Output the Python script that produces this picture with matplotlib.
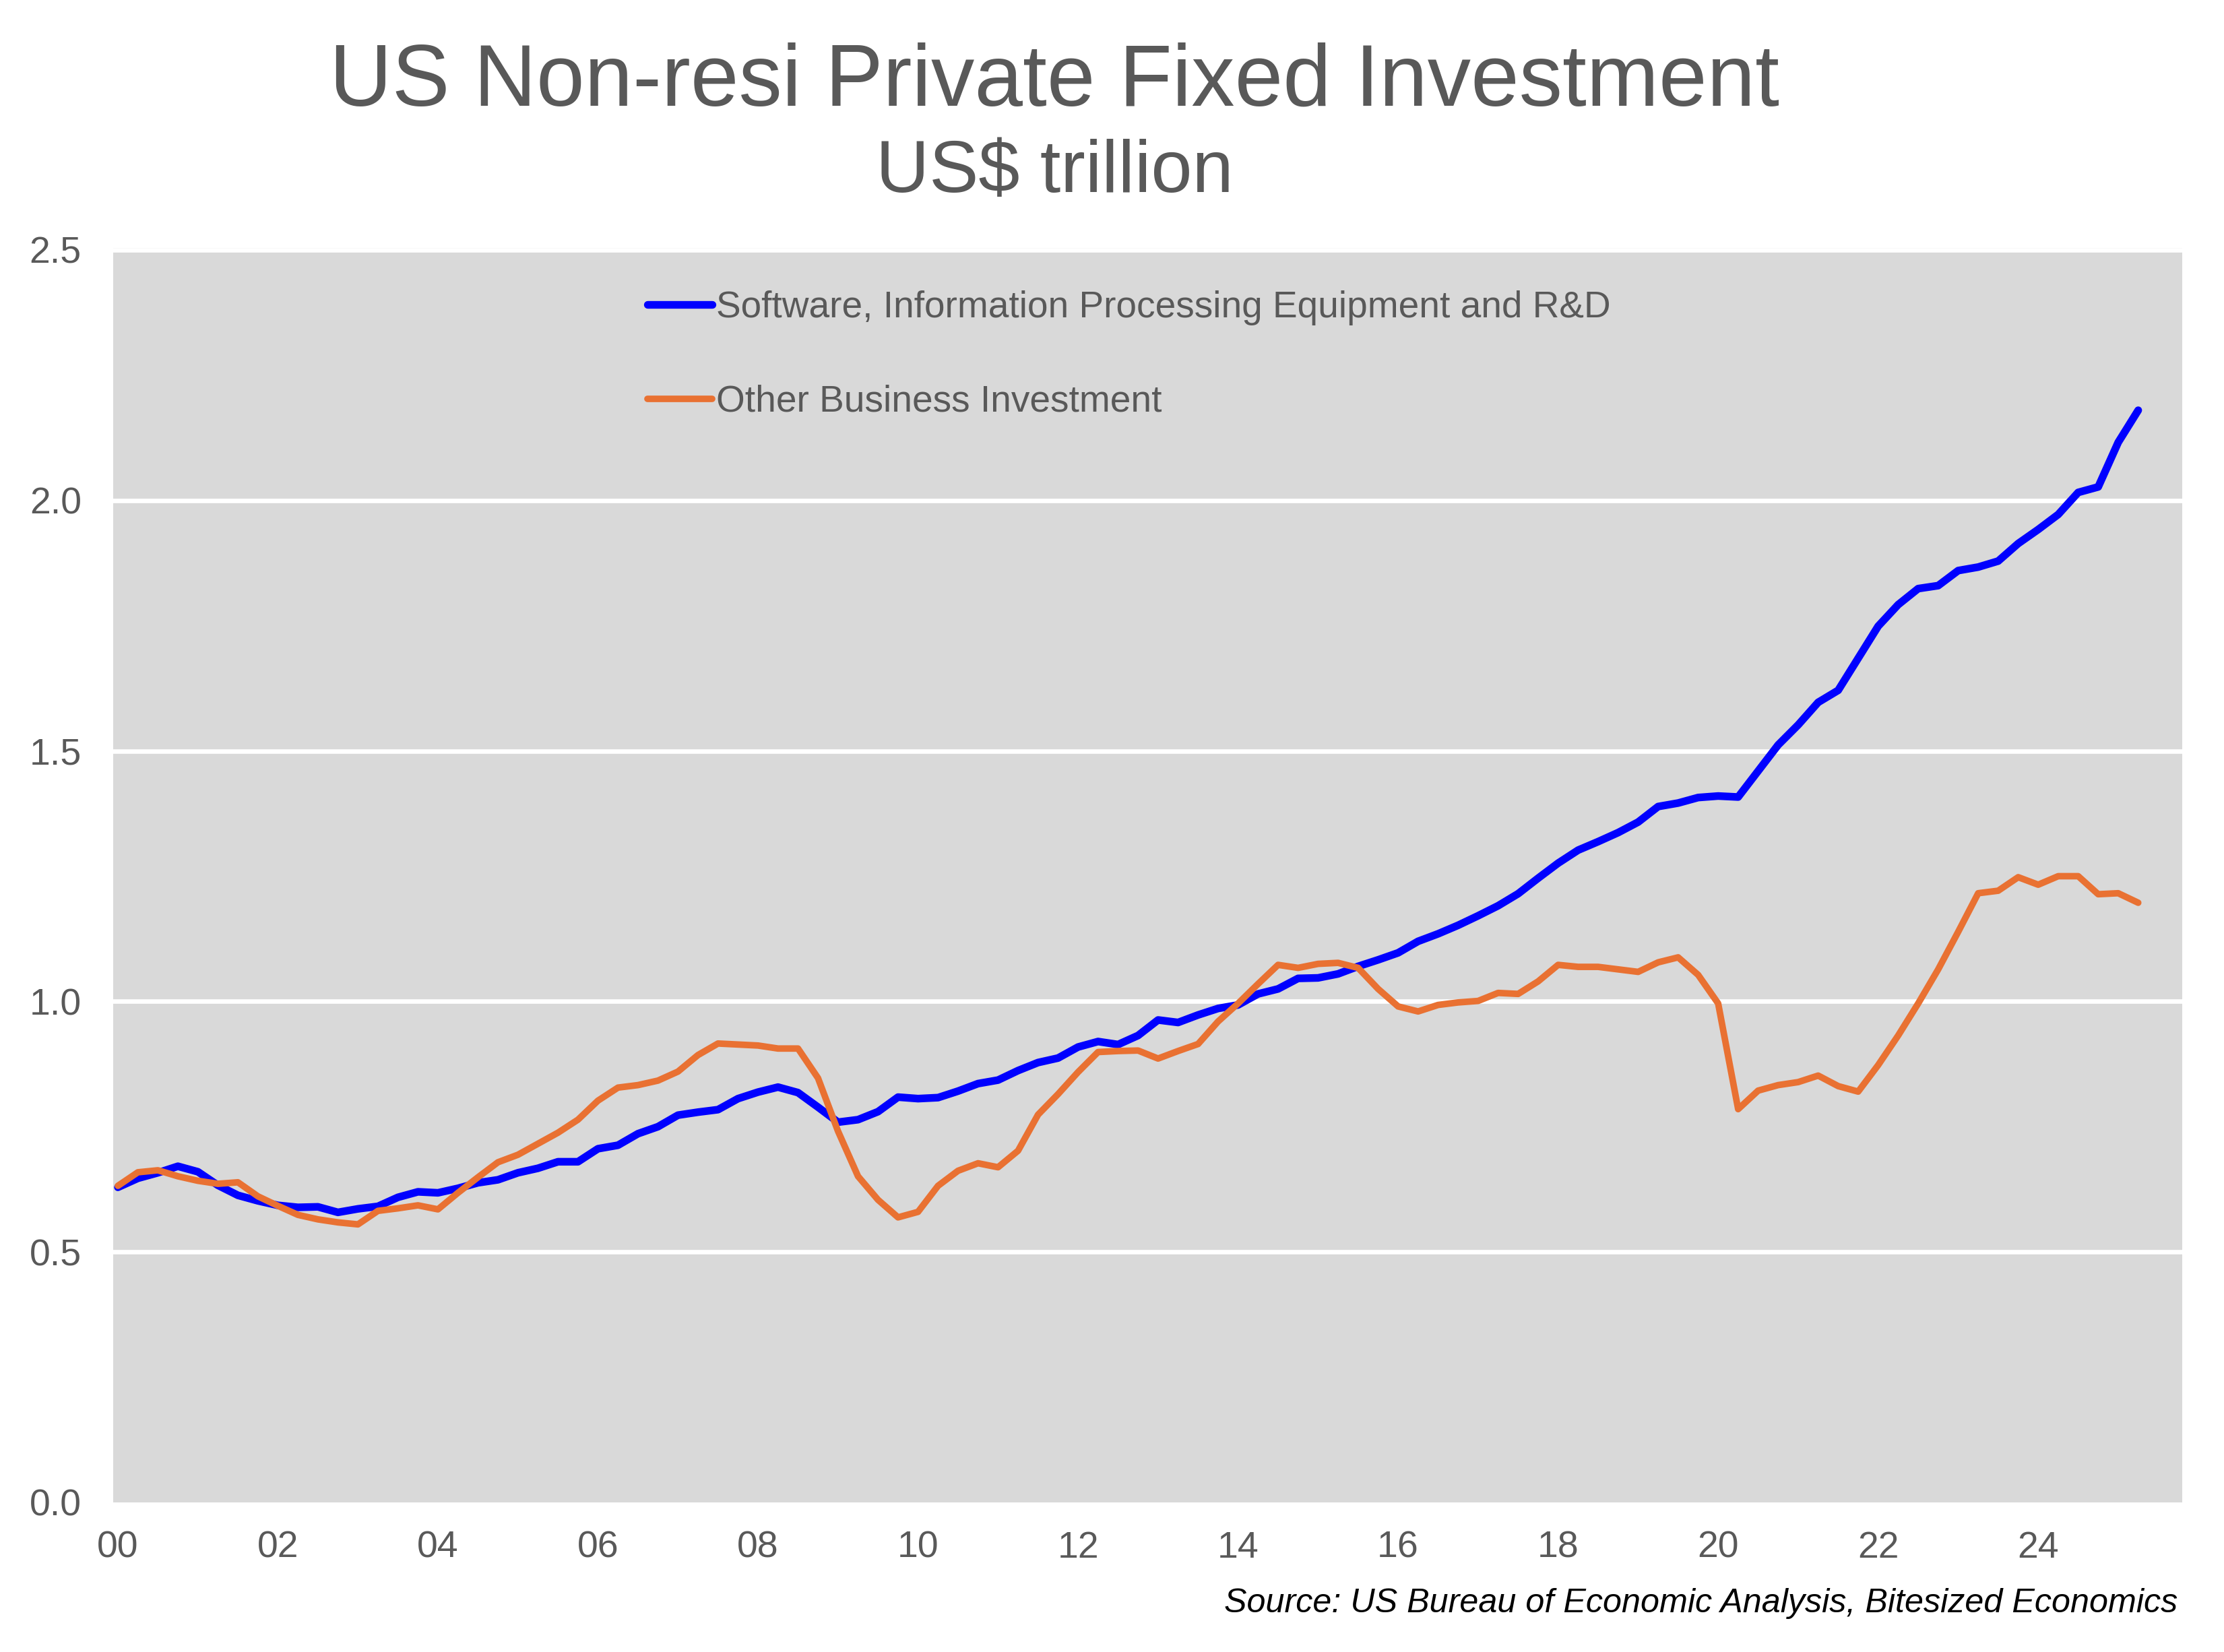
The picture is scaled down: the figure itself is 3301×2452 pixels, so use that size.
import matplotlib
matplotlib.use("Agg")
import matplotlib.pyplot as plt

# ---------------- data (quarterly, 2000Q1 .. 2025Q2) ----------------
software_ipe_rd = [
    0.629, 0.647, 0.658, 0.671, 0.660, 0.633, 0.613, 0.602, 0.593, 0.589,
    0.590, 0.579, 0.586, 0.591, 0.609, 0.620, 0.618, 0.627, 0.638, 0.644,
    0.658, 0.667, 0.680, 0.680, 0.706, 0.713, 0.736, 0.750, 0.773, 0.779,
    0.784, 0.806, 0.819, 0.829, 0.818, 0.789, 0.759, 0.764, 0.780, 0.809,
    0.806, 0.808, 0.821, 0.836, 0.843, 0.862, 0.878, 0.887, 0.909, 0.920,
    0.914, 0.932, 0.963, 0.958, 0.973, 0.986, 0.993, 1.015, 1.025, 1.046,
    1.047, 1.055, 1.070, 1.083, 1.097, 1.120, 1.135, 1.152, 1.171, 1.191,
    1.215, 1.246, 1.276, 1.302, 1.319, 1.337, 1.358, 1.389, 1.396, 1.407,
    1.410, 1.408, 1.460, 1.512, 1.552, 1.597, 1.621, 1.685, 1.749, 1.792,
    1.824, 1.830, 1.860, 1.867, 1.879, 1.914, 1.942, 1.972, 2.016, 2.027,
    2.116, 2.180,
]
other_business = [
    0.632, 0.659, 0.663, 0.651, 0.642, 0.636, 0.639, 0.611, 0.592, 0.574,
    0.565, 0.559, 0.555, 0.582, 0.587, 0.593, 0.585, 0.618, 0.649, 0.679,
    0.694, 0.716, 0.738, 0.764, 0.802, 0.828, 0.833, 0.842, 0.860, 0.893,
    0.916, 0.914, 0.912, 0.906, 0.906, 0.847, 0.741, 0.651, 0.604, 0.569,
    0.580, 0.632, 0.662, 0.677, 0.669, 0.702, 0.774, 0.815, 0.859, 0.899,
    0.901, 0.902, 0.886, 0.901, 0.915, 0.960, 0.996, 1.035, 1.073, 1.067,
    1.075, 1.077, 1.067, 1.025, 0.990, 0.980, 0.993, 0.998, 1.001, 1.017,
    1.015, 1.040, 1.073, 1.069, 1.069, 1.064, 1.059, 1.078, 1.088, 1.053,
    0.996, 0.785, 0.822, 0.833, 0.839, 0.852, 0.831, 0.820, 0.873, 0.932,
    0.996, 1.064, 1.139, 1.216, 1.221, 1.248, 1.233, 1.250, 1.250, 1.214,
    1.216, 1.197,
]
year_labels = ["00", "02", "04", "06", "08", "10", "12",
               "14", "16", "18", "20", "22", "24"]
y_ticks = [0.0, 0.5, 1.0, 1.5, 2.0, 2.5]
series_names = ["Software, Information Processing Equipment and R&D",
                "Other Business Investment"]

# ---------------- style ----------------
plt.rcParams["font.family"] = ["Liberation Sans", "DejaVu Sans"]
GREY_TXT = "#595959"
BLUE = "#0000FF"
ORANGE = "#E97132"

W, H = 3301, 2452
DPI = 200
fig = plt.figure(figsize=(W / DPI, H / DPI), dpi=DPI, facecolor="white")

left, right, top, bottom = 168, 3239, 368, 2230
ax = fig.add_axes([left / W, 1 - bottom / H, (right - left) / W, (bottom - top) / H])
ax.set_facecolor("#D9D9D9")
for s in ax.spines.values():
    s.set_visible(False)

x = list(range(len(software_ipe_rd)))
ax.plot(x, software_ipe_rd, color=BLUE, lw=4.1, solid_joinstyle="round",
        solid_capstyle="round", label=series_names[0], zorder=3)
ax.plot(x, other_business, color=ORANGE, lw=3.5, solid_joinstyle="round",
        solid_capstyle="round", label=series_names[1], zorder=4)

ax.set_xlim(-0.236, 103.2)
ax.set_ylim(0, 2.504)

for yv in y_ticks[1:]:
    ax.axhline(yv, color="white", lw=2.4, zorder=1, clip_on=False)

ax.set_yticks(y_ticks)
ax.set_yticklabels([f"{v:.1f}" for v in y_ticks])
ax.set_xticks([i * 8 for i in range(len(year_labels))])
ax.set_xticklabels(year_labels)
ax.tick_params(axis="both", length=0, labelsize=20, colors=GREY_TXT)
ax.tick_params(axis="y", pad=17)
ax.tick_params(axis="x", pad=15)

leg = ax.legend(loc="upper left", bbox_to_anchor=(961 / W, 1 - 431 / H),
                bbox_transform=fig.transFigure, frameon=False, fontsize=19.8,
                handlelength=1.75, handletextpad=0.1, labelspacing=1.6,
                borderpad=0, borderaxespad=0)
for t in leg.get_texts():
    t.set_color(GREY_TXT)

fig.text(1565 / W, 1 - 157 / H, "US Non-resi Private Fixed Investment",
         ha="center", va="baseline", fontsize=46.3, color=GREY_TXT)
fig.text(1565 / W, 1 - 285 / H, "US$ trillion",
         ha="center", va="baseline", fontsize=39.5, color=GREY_TXT)
fig.text(3232 / W, 1 - 2393 / H,
         "Source: US Bureau of Economic Analysis, Bitesized Economics",
         ha="right", va="baseline", fontsize=18.1, style="italic", color="black")

fig.savefig("out.png", dpi=DPI, facecolor="white")
